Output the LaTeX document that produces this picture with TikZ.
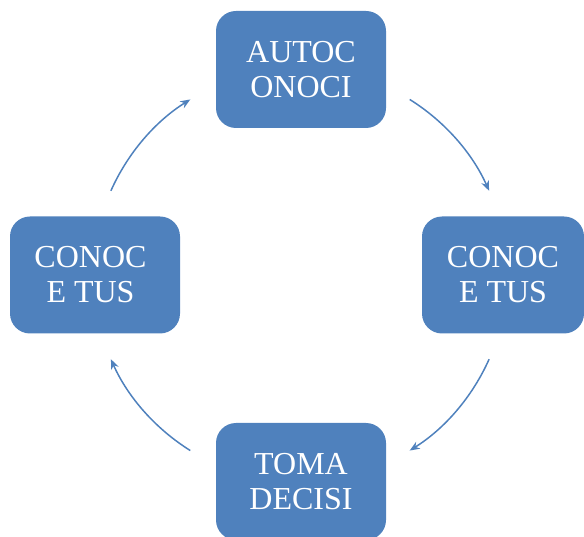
\documentclass[tikz,border=0pt]{standalone}
\usepackage{fontspec}
\setmainfont{Liberation Serif}
\usetikzlibrary{arrows.meta,calc}
\definecolor{boxblue}{HTML}{4F81BD}
\begin{document}
\begin{tikzpicture}[x=1pt,y=1pt,
  stagebox/.style={fill=boxblue, rounded corners=20pt, minimum width=170pt,
    minimum height=117pt, text=white, font=\fontsize{32}{35}\selectfont,
    align=center, inner sep=0pt},
  cyc/.style={draw=boxblue, line width=1.5pt, -{Stealth[length=10pt,width=8pt]}}]
\useasboundingbox (0,0) rectangle (584,536);
\node[stagebox] (top) at (301,466.5) {AUTOC\\ONOCI};
\node[stagebox, minimum width=162pt] (right) at (503,261) {CONOC\\E TUS};
\node[stagebox] (bottom) at (301,54.5) {TOMA\\DECISI};
\node[stagebox] (left) at (95,261) {CONOC\hspace*{9pt}\\E TUS\hspace*{9pt}};
\coordinate (c) at (300,261);
\coordinate (a1) at ($(c)+(58:207pt)$);
\coordinate (a2) at ($(c)+(-24:207pt)$);
\coordinate (a3) at ($(c)+(238:207pt)$);
\coordinate (a4) at ($(c)+(156:207pt)$);
\draw[cyc] (a1) arc[start angle=58, end angle=24, radius=207pt];
\draw[cyc] (a2) arc[start angle=-24, end angle=-58, radius=207pt];
\draw[cyc] (a3) arc[start angle=238, end angle=204, radius=207pt];
\draw[cyc] (a4) arc[start angle=156, end angle=122, radius=207pt];
\end{tikzpicture}
\end{document}
